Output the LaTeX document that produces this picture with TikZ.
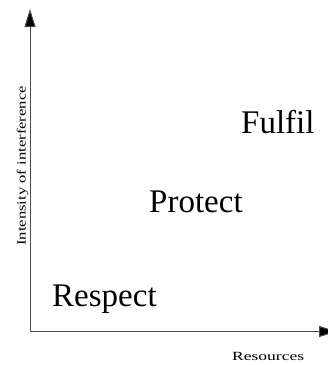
\documentclass[tikz,border=0pt]{standalone}
\usepackage{fontspec}
\setmainfont{Liberation Serif}
\usetikzlibrary{arrows.meta}
\tikzset{
  axis/.style={draw=black!70, line width=1pt, -{Triangle[length=18pt,width=11pt,fill=black]}},
  big/.style={inner sep=0pt, anchor=base west, font=\fontsize{33}{33}\selectfont},
  small/.style={inner sep=0pt, anchor=base west, font=\fontsize{12.5}{12.5}\selectfont},
}
\begin{document}
\begin{tikzpicture}[x=1pt,y=-1pt]
\useasboundingbox (0,0) rectangle (328,365);
\coordinate (o) at (30,331.5);
\coordinate (ytip) at (30,9);
\coordinate (xtip) at (337,331.5);
\draw[axis] (o) -- (ytip);
\draw[axis] (o) -- (xtip);
\node[big] (respect) at (52,306) {Respect};
\node[big] (protect) at (149,212) {Protect};
\node[big] (fulfil) at (241,133) {Fulfil};
\node[small] (res) at (232,360.5) {\scalebox{1.4}[1]{Resources}};
\node[small, rotate=90] (int) at (25.5,246) {\scalebox{1.33}[1]{Intensity of interference}};
\end{tikzpicture}
\end{document}
